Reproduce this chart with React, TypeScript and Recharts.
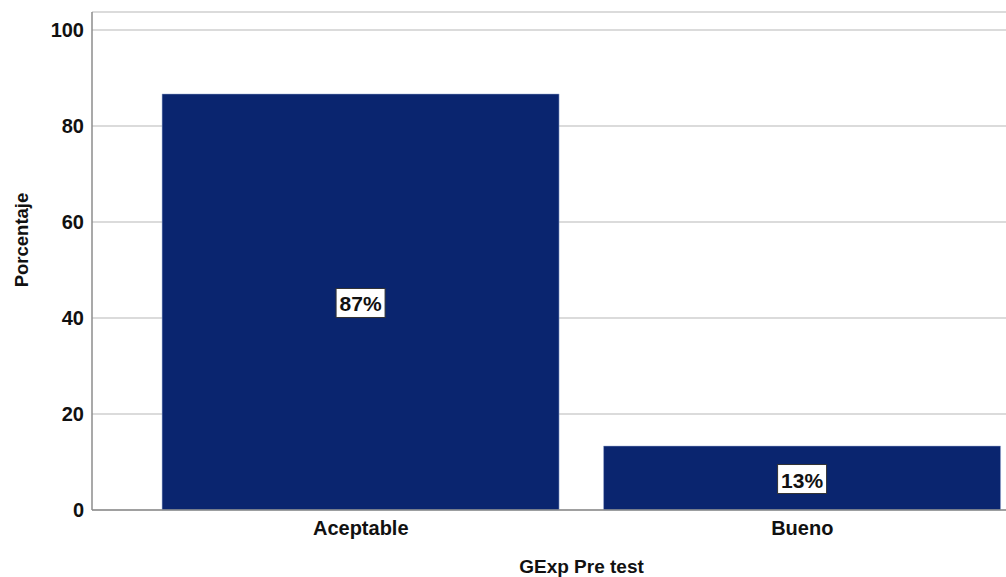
import React from "react";
import { BarChart, Bar, XAxis, YAxis, CartesianGrid, LabelList, Label } from "recharts";

const categories = ["Aceptable", "Bueno"];
const percentages = [86.67, 13.33];
const barLabels = ["87%", "13%"];
const yTicks = [0, 20, 40, 60, 80, 100];

const data = categories.map((c, i) => ({ name: c, value: percentages[i], label: barLabels[i] }));

const FONT = "'Liberation Sans', Arial, sans-serif";
const BAR_COLOR = "#0a256f";

const BoxLabel = (props: any) => {
  const { x, y, width, height, value } = props;
  const cx = x + width / 2;
  const cy = y + height / 2 + 1;
  const w = 49;
  const h = 29;
  return (
    <g>
      <rect x={cx - w / 2} y={cy - h / 2} width={w} height={h} fill="#ffffff" stroke="#333" strokeWidth={1} />
      <text x={cx} y={cy + 1} textAnchor="middle" dominantBaseline="central" fontFamily={FONT} fontSize={21} fontWeight="bold" fill="#111">
        {value}
      </text>
    </g>
  );
};

const XTitle = (props: any) => {
  const vb = props.viewBox;
  return (
    <text x={vb.x + vb.width / 2} y={vb.y + 56} textAnchor="middle" dominantBaseline="central" fontFamily={FONT} fontSize={19} fontWeight="bold" fill="#111">
      GExp Pre test
    </text>
  );
};

const YTitle = (props: any) => {
  const vb = props.viewBox;
  const x = 21;
  const y = vb.y + vb.height / 2 - 21;
  return (
    <text x={x} y={y} transform={`rotate(-90, ${x}, ${y})`} textAnchor="middle" dominantBaseline="central" fontFamily={FONT} fontSize={18.5} fontWeight="bold" fill="#111">
      Porcentaje
    </text>
  );
};

export default function App() {
  return (
    <div style={{ position: "absolute", left: 0, top: 0, width: 1006, height: 577, overflow: "hidden", background: "#fff" }}>
      <BarChart width={1071} height={577} data={data} margin={{ top: 12, right: 0, left: 0, bottom: 0 }} barCategoryGap="5%">
        <CartesianGrid vertical={false} stroke="#cfcfcf" strokeWidth={1.5} />
        <XAxis
          dataKey="name"
          height={67}
          padding={{ left: 48, right: 48 }}
          tickLine={false}
          tickMargin={5}
          axisLine={{ stroke: "#8c8c8c", strokeWidth: 1.5 }}
          tick={{ fontFamily: FONT, fontSize: 20, fontWeight: "bold", fill: "#111" }}
        >
          <Label content={<XTitle />} />
        </XAxis>
        <YAxis
          width={92}
          domain={[0, 103.75]}
          ticks={yTicks}
          tickLine={false}
          axisLine={{ stroke: "#8c8c8c", strokeWidth: 1.5 }}
          tick={{ fontFamily: FONT, fontSize: 20, fontWeight: "bold", fill: "#111" }}
        >
          <Label content={<YTitle />} />
        </YAxis>
        <Bar dataKey="value" fill={BAR_COLOR} stroke="#9fb0d6" strokeWidth={0.5} isAnimationActive={false}>
          <LabelList dataKey="label" content={<BoxLabel />} />
        </Bar>
      </BarChart>
    </div>
  );
}
